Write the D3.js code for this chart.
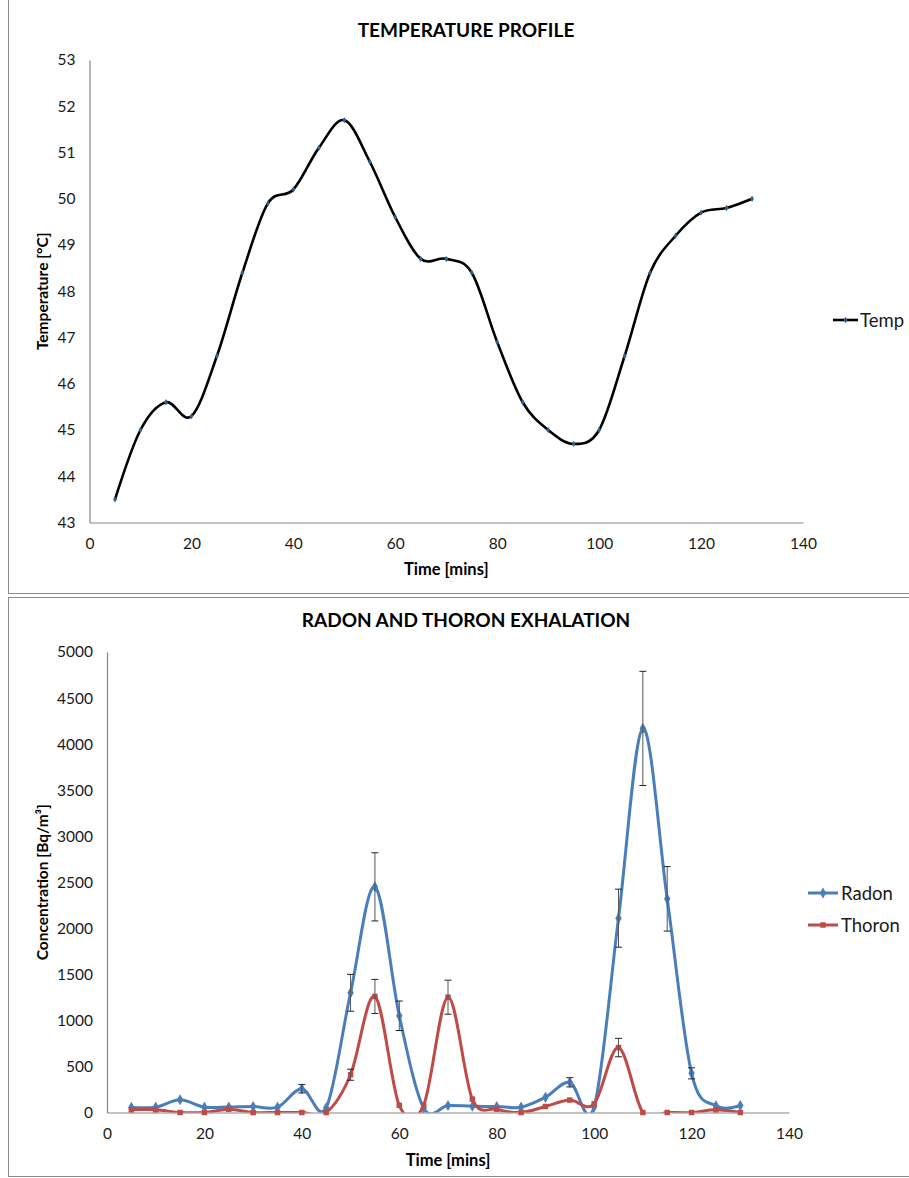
<!DOCTYPE html>
<html>
<head>
<meta charset="utf-8">
<script src="https://cdn.jsdelivr.net/npm/d3@7"></script>
<style>
  html, body { margin: 0; padding: 0; background: #fff; }
  svg { display: block; font-family: Lato, "Open Sans", sans-serif; }
</style>
</head>
<body>
<svg id="chart" width="909" height="1178"></svg>
<script>
// Sampling times (minutes)
const times = [5,10,15,20,25,30,35,40,45,50,55,60,65,70,75,80,85,90,95,100,105,110,115,120,125,130];

// Temperature profile (°C)
const temperature = [43.5,45.0,45.6,45.3,46.6,48.4,49.9,50.2,51.1,51.7,50.8,49.6,48.7,48.7,48.4,46.9,45.6,45.0,44.7,45.0,46.6,48.4,49.2,49.7,49.8,50.0];

// Radon and thoron concentrations (Bq/m³) with error bar half-widths
const radon     = [55,58,138,58,60,65,58,258,52,1300,2450,1050,50,76,68,65,58,165,328,62,2110,4170,2320,425,72,76];
const radonErr  = [0,0,0,0,0,0,0,45,0,200,370,160,0,0,0,0,0,0,50,0,315,620,350,60,0,0];
const thoron    = [30,30,0,0,35,0,0,0,0,410,1260,78,78,1252,145,36,0,65,135,95,705,0,0,0,30,0];
const thoronErr = [0,0,0,0,0,0,0,0,0,60,185,0,0,185,0,0,0,0,0,0,100,0,0,0,0,0];

const xTicks = [0,20,40,60,80,100,120,140];
const tempTicks = [43,44,45,46,47,48,49,50,51,52,53];
const concTicks = [0,500,1000,1500,2000,2500,3000,3500,4000,4500,5000];

const svg = d3.select("#chart");
const axisColor = "#868686";
const textColor = "#1a1a1a";
const smooth = d3.curveCatmullRom.alpha(0);

function frame(y0, y1) {
  svg.append("rect")
    .attr("x", 8.5).attr("y", y0 + 0.5)
    .attr("width", 940).attr("height", y1 - y0)
    .attr("fill", "none").attr("stroke", "#8c8c8c").attr("stroke-width", 1);
}

function axes(g, x, y, yTickVals, yFmt, plot) {
  const xa = d3.axisBottom(x).tickValues(xTicks).tickSize(0).tickPadding(15);
  const gx = g.append("g").attr("transform", `translate(0,${plot.bottom})`).call(xa);
  gx.select(".domain").attr("stroke", axisColor).attr("stroke-width", 1.2);
  gx.selectAll("text").attr("font-size", 15.5).attr("fill", textColor).attr("font-family", "Lato, sans-serif");

  const ya = d3.axisLeft(y).tickValues(yTickVals).tickSize(0).tickPadding(14).tickFormat(yFmt);
  const gy = g.append("g").attr("transform", `translate(${plot.left},0)`).call(ya);
  gy.select(".domain").attr("stroke", axisColor).attr("stroke-width", 1.2);
  gy.selectAll("text").attr("font-size", 15.5).attr("fill", textColor).attr("font-family", "Lato, sans-serif");
}

function titles(g, plot, title, titleY, yTitle, xTitleY) {
  g.append("text")
    .attr("x", 466).attr("y", titleY)
    .attr("text-anchor", "middle")
    .attr("font-size", 19).attr("font-weight", "bold").attr("fill", "#000")
    .text(title);
  g.append("text")
    .attr("x", (plot.left + plot.right) / 2).attr("y", xTitleY)
    .attr("text-anchor", "middle")
    .attr("font-size", 16.5).attr("font-weight", "bold").attr("fill", "#000")
    .text("Time [mins]");
  const cy = (plot.top + plot.bottom) / 2;
  g.append("text")
    .attr("transform", `translate(48,${cy}) rotate(-90)`)
    .attr("text-anchor", "middle")
    .attr("font-size", 15.5).attr("font-weight", "bold").attr("fill", "#000")
    .text(yTitle);
}

// ---------- Temperature profile ----------
frame(-2, 593);
{
  const plot = { left: 89.5, right: 803, top: 60, bottom: 522.5 };
  const x = d3.scaleLinear().domain([0, 140]).range([plot.left, plot.right]);
  const y = d3.scaleLinear().domain([43, 53]).range([plot.bottom, plot.top]);
  const g = svg.append("g");

  axes(g, x, y, tempTicks, d3.format("d"), plot);
  titles(g, plot, "TEMPERATURE PROFILE", 37, "Temperature [°C]", 575);

  const pts = times.map((t, i) => [t, temperature[i]]);
  g.append("path")
    .datum(pts)
    .attr("fill", "none").attr("stroke", "#000").attr("stroke-width", 2.6)
    .attr("d", d3.line().x(d => x(d[0])).y(d => y(d[1])).curve(smooth));

  const diamond = d3.symbol().type(d3.symbolDiamond).size(12);
  g.selectAll(".tm").data(pts).join("path")
    .attr("transform", d => `translate(${x(d[0])},${y(d[1])})`)
    .attr("d", diamond).attr("fill", "#2f5f97");

  // legend
  const ly = 320;
  g.append("line").attr("x1", 833).attr("x2", 858).attr("y1", ly).attr("y2", ly)
    .attr("stroke", "#000").attr("stroke-width", 2.6);
  g.append("path").attr("transform", `translate(845.5,${ly})`).attr("d", diamond).attr("fill", "#2f5f97");
  g.append("text").attr("x", 860).attr("y", ly + 6.5)
    .attr("font-size", 18.5).attr("fill", textColor).text("Temp");
}

// ---------- Radon and thoron exhalation ----------
frame(597, 1176);
{
  const plot = { left: 107, right: 789, top: 652, bottom: 1112.5 };
  const x = d3.scaleLinear().domain([0, 140]).range([plot.left, plot.right]);
  const y = d3.scaleLinear().domain([0, 5000]).range([plot.bottom, plot.top]);
  const g = svg.append("g");

  svg.append("defs").append("clipPath").attr("id", "plotClip")
    .append("rect")
    .attr("x", plot.left).attr("y", plot.top - 10)
    .attr("width", plot.right - plot.left + 10).attr("height", plot.bottom - plot.top + 10);

  axes(g, x, y, concTicks, d3.format("d"), plot);
  titles(g, plot, "RADON AND THORON EXHALATION", 627, "Concentration [Bq/m³]", 1166);

  const series = [
    { name: "Radon",  values: radon,  errs: radonErr,  color: "#4a7ebb", shape: d3.symbolDiamond, size: 36 },
    { name: "Thoron", values: thoron, errs: thoronErr, color: "#be4b48", shape: d3.symbolSquare,  size: 30 }
  ];

  const lineGen = d3.line().x(d => x(d[0])).y(d => y(d[1])).curve(smooth);

  series.forEach(s => {
    const pts = times.map((t, i) => [t, s.values[i], s.errs[i]]);
    g.append("path")
      .datum(pts)
      .attr("clip-path", "url(#plotClip)")
      .attr("fill", "none").attr("stroke", s.color).attr("stroke-width", 3)
      .attr("d", lineGen);

    g.selectAll(null).data(pts).join("path")
      .attr("transform", d => `translate(${x(d[0])},${y(d[1])})`)
      .attr("d", d3.symbol().type(s.shape).size(s.size))
      .attr("fill", s.color);
  });

  // error bars drawn above the series
  series.forEach(s => {
    const pts = times.map((t, i) => [t, s.values[i], s.errs[i]]).filter(d => d[2] > 0);
    const eb = g.selectAll(null).data(pts).join("g")
      .attr("stroke", "#222").attr("stroke-width", 1);
    eb.append("line")
      .attr("x1", d => x(d[0])).attr("x2", d => x(d[0]))
      .attr("y1", d => y(d[1] + d[2])).attr("y2", d => y(d[1] - d[2]))
      .attr("stroke", "#555");
    eb.append("line")
      .attr("x1", d => x(d[0]) - 3.5).attr("x2", d => x(d[0]) + 3.5)
      .attr("y1", d => y(d[1] + d[2])).attr("y2", d => y(d[1] + d[2]));
    eb.append("line")
      .attr("x1", d => x(d[0]) - 3.5).attr("x2", d => x(d[0]) + 3.5)
      .attr("y1", d => y(d[1] - d[2])).attr("y2", d => y(d[1] - d[2]));
  });

  // legend
  series.forEach((s, i) => {
    const ly = 893 + i * 32;
    g.append("line").attr("x1", 808).attr("x2", 838).attr("y1", ly).attr("y2", ly)
      .attr("stroke", s.color).attr("stroke-width", 3);
    g.append("path").attr("transform", `translate(823,${ly})`)
      .attr("d", d3.symbol().type(s.shape).size(s.size)).attr("fill", s.color);
    g.append("text").attr("x", 841).attr("y", ly + 6.5)
      .attr("font-size", 18.5).attr("fill", textColor).text(s.name);
  });
}
</script>
</body>
</html>
